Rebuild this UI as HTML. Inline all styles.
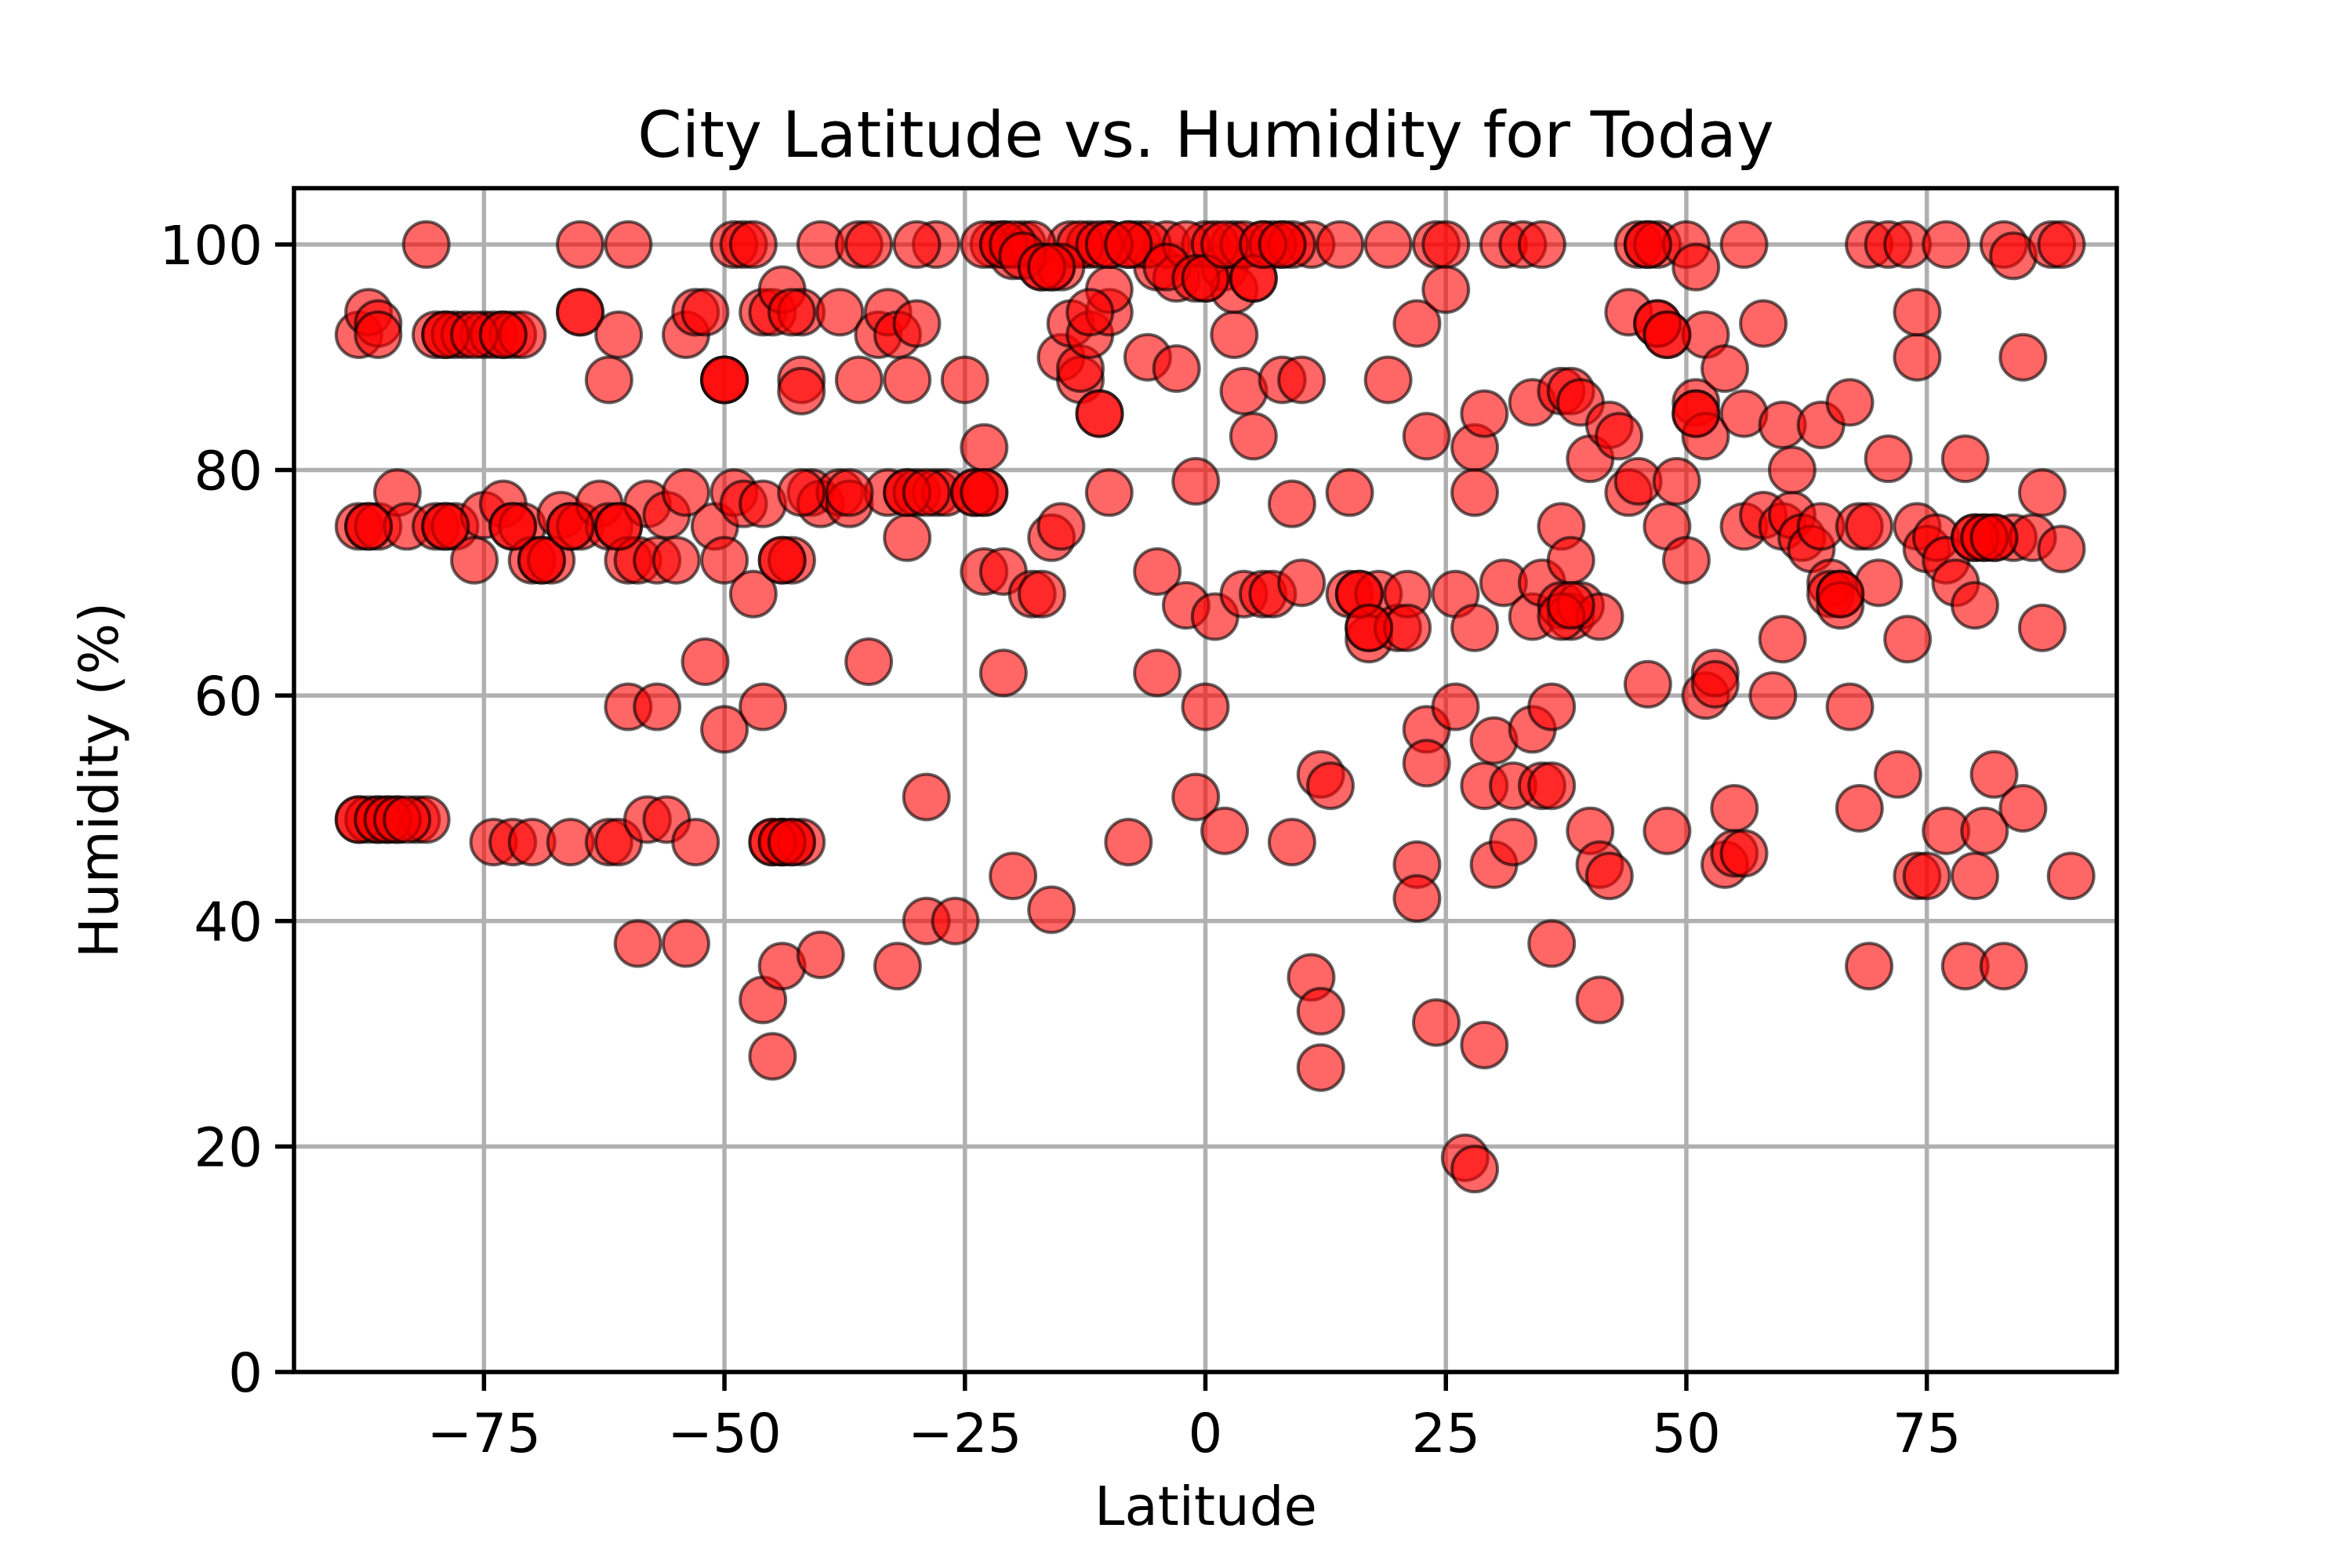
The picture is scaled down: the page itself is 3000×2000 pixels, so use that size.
<!DOCTYPE html>
<html><head><meta charset="utf-8"><style>
html,body{margin:0;padding:0;background:#fff;}
svg{display:block;font-family:"DejaVu Sans","Liberation Sans",sans-serif;}
</style></head><body>
<svg id="chart" width="3000" height="2000" viewBox="0 0 3000 2000" xmlns="http://www.w3.org/2000/svg">
<rect width="3000" height="2000" fill="#fff"/>
<g id="grid"></g>
<g id="points"></g>
<rect x="375" y="240" width="2325" height="1510" fill="none" stroke="#000" stroke-width="5.5"/>
<g id="ticks"></g>
<text x="1538" y="200" font-size="81" text-anchor="middle">City Latitude vs. Humidity for Today</text>
<text x="1538" y="1945" font-size="69" text-anchor="middle">Latitude</text>
<text x="0" y="0" font-size="69" text-anchor="middle" transform="translate(150,995) rotate(-90)">Humidity (%)</text>
</svg>
<script>
const xTicks=[-75,-50,-25,0,25,50,75];
const xTickLabels=["\u221275","\u221250","\u221225","0","25","50","75"];
const yTicks=[0,20,40,60,80,100];
const yTickLabels=["0","20","40","60","80","100"];
const pts=[[-88,92],[-87,94],[-86,93],[-88,75],[-87,75],[-86,75],[-84,78],[-83,75],[-88,49],[-87,49],[-86,49],[-85,49],[-84,49],[-82,49],[-81,49],[-81,100],
[-80,92],[-79,92],[-78,92],[-77,92],[-75,92],[-74,92],[-73,92],[-72,92],[-71,92],
[-80,75],[-79,75],[-78,75],[-76,72],[-75,76],[-73,77],[-72,75],[-71,75],[-70,72],[-69,72],[-68,72],[-67,76],[-66,75],[-65,75],[-63,77],[-62,75],[-61,75],[-60,72],[-59,72],[-58,77],[-57,72],[-56,76],[-55,72],[-54,78],
[-74,47],[-72,47],[-70,47],[-66,47],[-62,47],[-61,47],[-58,49],[-56,49],[-53,47],
[-65,94],[-65,94],[-65,100],[-60,100],[-61,92],[-62,88],[-60,59],[-57,59],[-59,38],[-54,38],
[-54,92],[-53,94],[-52,94],[-52,63],[-50,57],[-50,88],[-50,88],[-51,75],[-50,72],[-49,78],[-48,77],[-47,69],[-46,77],[-46,59],[-46,33],[-45,28],[-45,47],[-44,47],[-44,47],[-43,47],[-42,47],[-44,36],[-40,37],
[-49,100],[-48,100],[-47,100],[-46,94],[-45,94],[-44,96],[-44,72],[-43,72],[-42,94],[-42,88],[-42,87],[-41,78],[-40,77],[-40,100],[-38,94],[-38,78],[-37,77],[-36,88],[-36,100],[-35,63],[-35,100],[-34,92],[-33,94],[-33,78],[-32,92],[-32,36],[-31,88],[-31,78],[-31,74],[-30,93],[-30,78],[-29,40],[-29,51],[-28,78],[-28,100],[-27,78],[-26,40],[-25,88],[-24,78],[-23,82],[-23,78],[-23,71],[-22,100],[-21,100],[-21,71],[-21,62],[-20,44],[-19,100],[-18,69],[-17,69],[-16,98],[-16,41],[-16,74],[-15,90],[-15,75],[-14,93],[-14,100],[-13,88],[-13,89],[-12,92],[-12,100],[-11,85],[-11,85],[-10,94],[-10,96],[-10,100],[-10,78],[-8,47],[-7,100],[-6,90],[-5,71],[-5,62],[-5,98],[-4,100],[-3,89],[-3,97],[-2,68],[-1,79],[-1,51],[0,59],[0,97],[0,100],[1,67],[2,98],[2,48],[3,92],[3,100],[3,96],[4,87],[4,69],[5,83],[5,97],[6,69],[6,100],[7,69],[8,88],[8,100],[9,77],[9,47],[10,70],[10,88],[11,100],[11,35],[12,32],[12,27],[12,53],[13,52],[14,100],[15,78],[15,69],[16,69],[17,65],[17,66],[18,69],[19,100],[19,88],[20,66],[21,69],[21,66],[22,45],[22,42],[22,93],[23,83],[23,57],[23,54],[24,31],[24,100],[25,100],[25,96],[26,69],[26,59],[27,19],[28,18],[28,82],[28,78],[28,66],[29,85],[29,29],[29,52],[30,45],[30,56],[31,100],[31,70],[32,52],[32,47],[33,100],[34,86],[34,57],[34,67],[35,52],[35,100],[35,70],[36,38],[36,59],[36,52],[37,87],[37,75],[37,68],[38,72],[38,67],[38,87],[39,68],[39,86],[40,81],[40,48],[41,45],[41,33],[41,67],[42,84],[42,44],[43,83],[44,78],[44,94],[45,100],[45,79],[46,100],[46,61],[47,93],[47,100],[48,92],[48,75],[48,48],[49,79],[50,72],[50,100],[51,86],[51,85],[51,98],[52,92],[52,83],[52,60],[53,62],[53,61],[54,45],[54,89],[55,50],[55,46],[56,46],[56,75],[56,100],[56,85],[58,93],[58,76],[59,60],[60,75],[60,84],[60,65],[61,76],[61,80],[62,74],[63,73],[64,75],[64,84],[65,70],[65,69],[66,69],[66,68],[67,86],[67,59],[68,75],[68,50],[69,75],[69,100],[69,36],[70,70],[71,81],[71,100],[72,53],[73,65],[73,100],[74,90],[74,94],[74,75],[74,44],[75,73],[75,44],[76,74],[77,48],[77,100],[77,72],[78,70],[79,81],[79,36],[80,44],[80,68],[80,74],[81,74],[81,48],[82,74],[82,53],[83,100],[83,36],[84,99],[84,74],[85,90],[85,50],[86,74],[87,78],[87,66],[88,100],[89,73],[90,44],[89,100],
[-20,99],[-18,100],[-17,98],[-13,100],[-8,100],[-6,100],[-2,100],[1,100],[4,100],[7,100],[9,100],[-15,98],[-12,94],[-23,100],[-30,100],
[-88,49],[-86,49],[-85,49],[-84,49],[-83,49],[-87,75],[-86,92],[-79,92],[-76,92],[-73,92],[-79,75],[-72,75],[-69,72],[-66,75],[-61,75],
[-45,47],[-44,47],[-43,47],[-44,72],[-43,94],[-42,78],[-37,78],[-31,78],[-29,78],[-24,78],[-23,78],
[-21,100],[-20,100],[-19,99],[-17,98],[-16,98],[-11,100],[-10,100],[-8,100],[-4,98],[-1,97],[0,97],[2,100],[5,97],[6,100],[8,100],
[80,74],[81,74],[82,74],[16,69],[17,66],[37,67],[38,68],[66,69],[51,85],[47,93],[48,92],[46,100],[-50,88]];
const lats=pts.map(p=>p[0]);
const hums=pts.map(p=>p[1]);
const NS="http://www.w3.org/2000/svg";
const X0=375,X1=2700,Y0=1750,Y1=240,XMIN=-94.75,XMAX=94.75,YMIN=0,YMAX=105;
function sx(v){return X0+(v-XMIN)/(XMAX-XMIN)*(X1-X0);}
function sy(v){return Y0-(v-YMIN)/(YMAX-YMIN)*(Y0-Y1);}
function mk(t,a,parent){const e=document.createElementNS(NS,t);for(const k in a)e.setAttribute(k,a[k]);parent.appendChild(e);return e;}
const grid=document.getElementById('grid'),ticks=document.getElementById('ticks'),pg=document.getElementById('points');
xTicks.forEach((v,i)=>{
 const g=mk('line',{x1:sx(v),x2:sx(v),y1:Y1,y2:Y0,stroke:'#b0b0b0','stroke-width':5.5},grid);
 
 
 const t=mk('line',{x1:sx(v),x2:sx(v),y1:Y0,y2:Y0+24,stroke:'#000','stroke-width':5.5},ticks);
 
 
 const l=mk('text',{x:sx(v),y:Y0+102,'font-size':69,'text-anchor':'middle'},ticks);
 l.textContent=xTickLabels[i];
 
 
});
yTicks.forEach((v,i)=>{
 const g=mk('line',{x1:X0,x2:X1,y1:sy(v),y2:sy(v),stroke:'#b0b0b0','stroke-width':5.5},grid);
 
 
 const t=mk('line',{x1:X0-24,x2:X0,y1:sy(v),y2:sy(v),stroke:'#000','stroke-width':5.5},ticks);
 
 
 const l=mk('text',{x:X0-40,y:sy(v)+25,'font-size':69,'text-anchor':'end'},ticks);
 l.textContent=yTickLabels[i];
 
 
});
lats.forEach((v,i)=>{
 const c=mk('circle',{cx:sx(v),cy:sy(hums[i]),r:29,fill:'#ff0000','fill-opacity':0.6,stroke:'#000','stroke-opacity':0.6,'stroke-width':4},pg);
 
 
});
</script>
</body></html>
